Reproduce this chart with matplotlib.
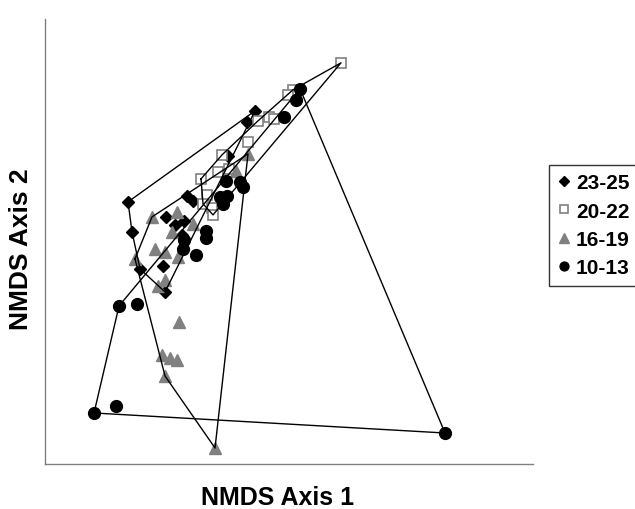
import matplotlib.pyplot as plt
import numpy as np

# NMDS scores, one pair of lists per age class
d_x = [-1.22, -1.18, -1.10, -0.85, -0.87, 0.05, -0.03, -0.22, -0.84, -0.75, -0.66, -0.68, -0.63, -0.57]
d_y = [0.97, 0.67, 0.30, 0.07, 0.33, 1.88, 1.77, 1.43, 0.82, 0.74, 0.78, 0.64, 1.03, 0.98]

s_x = [0.91, 0.43, 0.38, 0.08, 0.19, 0.24, -0.02, -0.28, -0.32, -0.21, -0.49, -0.43, -0.47, -0.38, -0.37]
s_y = [2.36, 2.09, 2.04, 1.78, 1.82, 1.80, 1.57, 1.44, 1.27, 1.30, 1.20, 1.04, 0.95, 0.91, 0.84]

t_x = [-0.02, -0.14, -0.98, -0.73, -0.78, -0.95, -0.85, -0.72, -1.15, -0.92, -0.85, -0.57,
       -0.71, -0.88, -0.80, -0.73, -0.85, -0.35]
t_y = [1.45, 1.28, 0.82, 0.87, 0.67, 0.50, 0.47, 0.42, 0.40, 0.13, 0.19, 0.75,
       -0.23, -0.56, -0.59, -0.61, -0.77, -1.49]

c_x = [0.50, 0.46, 0.34, -0.24, -0.10, -0.07, -0.30, -0.23, -0.27, -0.44, -0.44, -0.66, -0.67,
       -0.54, -1.31, -1.13, -1.34, -1.56, 1.95]
c_y = [2.10, 1.99, 1.82, 1.18, 1.17, 1.12, 1.02, 1.03, 0.95, 0.68, 0.61, 0.59, 0.50,
       0.44, -0.07, -0.05, -1.07, -1.14, -1.34]

labels = ['23-25', '20-22', '16-19', '10-13']


def hull(xs, ys):
    # monotone chain convex hull, returns closed polygon
    pts = sorted(set(zip(xs, ys)))

    def cross(o, a, b):
        return (a[0] - o[0]) * (b[1] - o[1]) - (a[1] - o[1]) * (b[0] - o[0])

    lower, upper = [], []
    for p in pts:
        while len(lower) >= 2 and cross(lower[-2], lower[-1], p) <= 0:
            lower.pop()
        lower.append(p)
    for p in reversed(pts):
        while len(upper) >= 2 and cross(upper[-2], upper[-1], p) <= 0:
            upper.pop()
        upper.append(p)
    h = lower[:-1] + upper[:-1]
    h.append(h[0])
    return np.array(h)


fig = plt.figure(figsize=(6.35, 5.10), dpi=100)
ax = fig.add_axes([0.0709, 0.0882, 0.7685, 0.873])

gray = '#808080'
ax.plot(d_x, d_y, 'D', color='black', markersize=6.5, label=labels[0], linestyle='none')
ax.plot(s_x, s_y, 's', markerfacecolor='white', markeredgecolor=gray, markeredgewidth=1.2,
        markersize=7.5, label=labels[1], linestyle='none')
ax.plot(t_x, t_y, '^', color=gray, markersize=9, label=labels[2], linestyle='none')
ax.plot(c_x, c_y, 'o', color='black', markersize=8.5, label=labels[3], linestyle='none')

for xs, ys in [(d_x, d_y), (s_x, s_y), (t_x, t_y), (c_x, c_y)]:
    h = hull(xs, ys)
    ax.plot(h[:, 0], h[:, 1], color='black', linewidth=1.0)

ax.set_xlim(-2.05, 2.83)
ax.set_ylim(-1.65, 2.80)
ax.set_xticks([])
ax.set_yticks([])
for side in ['top', 'right']:
    ax.spines[side].set_visible(False)
for side in ['left', 'bottom']:
    ax.spines[side].set_color(gray)
    ax.spines[side].set_linewidth(1.0)

font = 'Liberation Sans'
ax.set_xlabel('NMDS Axis 1', fontsize=18, fontweight='bold', family=font)
ax.set_ylabel('NMDS Axis 2', fontsize=19, fontweight='bold', family=font)
ax.xaxis.set_label_coords(0.476, -0.048, transform=ax.transAxes)
ax.yaxis.set_label_coords(-0.024, 0.485, transform=ax.transAxes)

leg = fig.legend(loc='upper left', bbox_to_anchor=(549 / 635, 1 - 166 / 510),
                 frameon=True, fancybox=False, edgecolor='black', borderaxespad=0,
                 prop={'family': font, 'weight': 'bold', 'size': 15},
                 handlelength=0.6, handletextpad=0.3, labelspacing=0.45, markerscale=0.75,
                 borderpad=0.4)
leg.get_frame().set_linewidth(1.0)

plt.savefig('out.png', dpi=100)
